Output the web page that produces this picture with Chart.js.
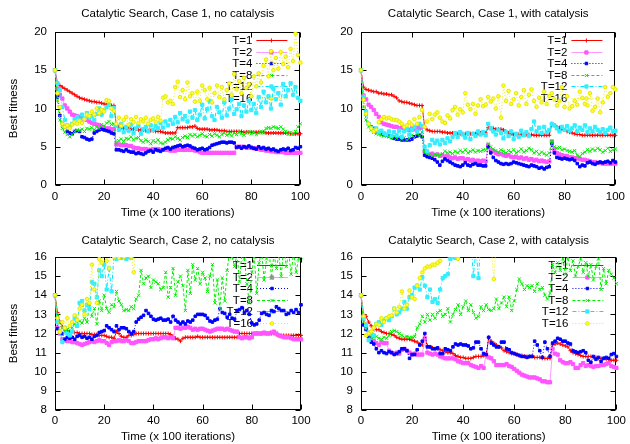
<!DOCTYPE html>
<html>
<head>
<meta charset="utf-8">
<script src="https://cdn.jsdelivr.net/npm/chart.js@4.4.0/dist/chart.umd.min.js"></script>
<style>
  body { margin: 0; background: #fff; }
  #wrap { position: relative; width: 630px; height: 444px; }
  canvas { position: absolute; }
</style>
</head>
<body>
<div id="wrap">
  <canvas id="p1" width="315" height="222" style="left:0;top:0"></canvas>
  <canvas id="p2" width="315" height="222" style="left:315px;top:0"></canvas>
  <canvas id="p3" width="315" height="222" style="left:0;top:222px"></canvas>
  <canvas id="p4" width="315" height="222" style="left:315px;top:222px"></canvas>
</div>
<script>
// time axis: 0..100 (x 100 iterations)
const times = Array.from({ length: 101 }, (_, i) => i);
const temps = ['T=1', 'T=2', 'T=4', 'T=8', 'T=12', 'T=16'];
const xTicks = [0, 20, 40, 60, 80, 100];

// Case 1, no catalysis
const c1n_t1 = [15,13.3,13.0,12.8,12.6,12.4,12.2,12.0,11.8,11.6,
  11.4,11.3,11.2,11.1,11.0,10.9,10.9,10.8,10.8,10.7,
  10.6,10.5,10.5,10.4,10.4,7.8,7.6,7.5,7.4,7.4,
  7.4,7.3,7.3,7.3,7.2,7.2,7.2,7.1,7.1,7.1,
  7.1,7.0,7.0,7.0,6.9,6.8,6.8,6.8,6.8,6.8,
  7.5,7.5,7.5,7.5,7.5,7.6,7.6,7.7,7.4,7.3,
  7.3,7.3,7.3,7.2,7.2,7.2,7.2,7.1,7.1,7.1,
  7.0,7.0,7.0,7.0,7.0,7.0,7.0,6.9,6.9,6.9,
  6.9,6.9,6.9,6.9,6.9,6.9,6.8,6.8,6.8,6.8,
  6.8,6.8,6.8,6.8,6.8,6.8,6.7,6.7,6.7,6.7,
  6.7];
const c1n_t2 = [15,12.6,11.8,11.3,10.4,10.0,9.6,9.2,9.1,9.0,
  8.9,8.8,8.6,8.5,8.3,8.1,8.0,7.9,7.8,7.6,
  7.5,7.4,7.4,7.3,7.3,5.3,5.3,5.2,5.2,5.2,
  5.1,5.1,4.9,4.8,4.8,4.7,4.7,4.7,4.6,4.6,
  4.7,4.7,4.7,4.6,4.6,4.6,4.6,4.5,4.5,4.5,
  4.6,4.6,4.6,4.6,4.6,4.6,4.6,4.5,4.5,4.3,
  4.2,4.2,4.2,4.2,4.2,4.2,4.2,4.2,4.2,4.2,
  4.2,4.2,4.2,4.2,5.0,5.0,5.0,5.0,4.9,4.9,
  4.9,4.8,4.8,4.7,4.6,4.6,4.5,4.5,4.4,4.4,
  4.3,4.3,4.3,4.3,4.2,4.2,4.2,4.2,4.2,4.2,
  4.2];
const c1n_t4 = [15,11.5,9.1,8.0,7.6,7.0,6.8,6.7,7.0,7.1,
  7.0,6.3,6.2,6.0,5.9,6.0,6.8,7.0,7.2,7.3,
  7.2,7.1,7.0,6.8,6.7,4.6,4.6,4.5,4.4,4.6,
  4.4,4.3,4.3,4.1,4.2,4.1,4.0,4.2,4.4,4.5,
  4.3,4.6,4.5,4.4,4.6,4.8,4.9,4.7,4.9,5.0,
  5.1,5.2,5.0,5.1,5.2,5.1,4.9,4.8,4.6,4.7,
  4.8,4.6,4.7,4.9,5.2,5.3,5.4,5.5,5.6,5.6,
  5.5,5.6,5.6,5.5,4.9,5.0,4.8,5.0,4.9,5.1,
  4.9,4.8,4.7,5.0,4.8,4.9,4.7,4.8,4.6,4.7,
  4.5,4.4,4.6,4.7,4.6,4.8,4.5,4.6,4.9,4.8,
  5.0];
const c1n_t8 = [15,11.1,8.5,7.4,6.9,6.6,6.3,6.6,7.0,7.2,
  7.1,7.3,7.0,7.4,7.3,7.5,7.2,7.6,7.4,7.9,
  7.7,8.1,8.3,7.9,8.0,5.4,5.8,6.0,5.7,6.1,
  6.0,6.3,5.9,6.1,6.2,5.8,5.6,5.9,5.7,5.4,
  5.8,5.6,5.9,5.5,5.4,5.6,5.9,6.1,6.0,6.3,
  6.1,5.9,6.2,6.4,6.2,6.6,6.4,6.6,6.3,6.5,
  6.7,6.4,6.3,6.6,6.4,6.7,6.5,6.3,6.6,6.8,
  6.5,6.7,6.4,6.8,6.6,6.9,6.7,6.5,6.8,7.0,
  6.7,6.9,6.6,6.8,7.0,6.8,7.4,7.5,7.4,7.6,
  7.5,7.4,7.6,7.3,7.0,6.6,6.9,6.6,7.0,7.6,
  8.0];
const c1n_t12 = [15,13.3,12.4,10.2,8.5,7.8,7.6,8.0,8.6,8.9,
  8.5,9.2,8.7,9.4,8.8,9.0,8.5,9.3,10.0,9.2,
  9.8,10.2,10.5,9.0,10.1,7.8,7.2,8.0,6.9,7.6,
  7.1,7.9,6.8,7.4,7.7,6.7,7.3,7.6,7.0,7.8,
  7.2,7.7,7.4,8.1,7.5,8.3,7.8,8.5,8.0,8.9,
  8.2,9.4,8.6,9.0,8.3,9.6,8.8,9.8,8.5,9.2,
  10.5,8.7,9.9,11.0,9.0,8.5,10.2,9.5,8.8,10.8,
  9.1,10.0,11.2,9.3,9.9,10.6,9.0,10.4,9.6,11.0,
  9.8,10.6,9.4,11.5,10.2,12.2,10.8,11.6,10.0,12.6,
  11.2,12.0,10.5,13.2,11.6,12.4,13.3,11.8,12.8,11.4,
  11.0];
const c1n_t16 = [15,12.0,10.2,8.0,7.6,7.8,7.4,7.9,8.2,8.0,
  8.4,8.1,8.6,9.2,9.0,9.6,9.2,10.0,9.4,9.8,
  9.6,11.1,11.0,10.0,9.7,8.0,8.8,7.7,8.5,8.9,
  7.9,8.6,8.2,8.9,8.1,8.6,8.3,8.8,8.0,8.5,
  8.7,8.2,8.9,8.4,11.4,11.6,10.8,11.0,10.6,12.8,
  13.5,11.5,12.4,11.2,13.4,11.6,12.0,10.9,12.2,11.0,
  13.0,12.4,11.2,12.7,10.8,12.0,13.0,11.5,12.8,11.2,
  12.4,13.3,11.8,14.5,12.5,13.6,12.0,14.0,12.7,13.2,
  11.6,14.2,12.9,14.6,13.4,15.6,16.4,14.2,17.5,15.0,
  16.6,15.2,17.4,15.8,16.8,15.4,17.8,16.2,19.8,17.0,
  16.0];

// Case 1, with catalysis
const c1w_t1 = [15,12.8,12.5,12.4,12.3,12.2,12.2,12.0,12.0,11.9,
  11.9,11.8,11.8,11.6,11.4,11.0,10.9,10.8,10.8,10.7,
  10.6,10.5,10.4,10.4,10.4,7.6,7.2,7.1,7.0,7.0,
  7.0,7.0,6.9,6.9,6.8,6.8,6.8,6.7,6.7,6.7,
  6.7,6.7,6.7,6.7,6.7,6.7,6.7,6.8,6.8,6.8,
  7.5,7.4,7.4,7.3,7.3,7.3,7.2,7.0,6.8,6.7,
  6.6,6.6,6.6,6.6,6.6,6.6,6.6,6.6,6.5,6.5,
  6.5,6.5,6.5,6.5,6.5,8.0,7.8,7.6,7.5,7.3,
  7.2,7.0,6.9,6.8,6.7,6.6,6.6,6.5,6.5,6.5,
  6.5,6.5,6.5,6.5,6.5,6.5,6.5,6.5,6.5,6.5,
  6.5];
const c1w_t2 = [15,11.7,11.2,10.5,10.2,9.8,9.3,8.9,8.2,8.0,
  7.9,7.8,7.7,7.6,7.6,7.4,7.5,7.4,7.3,7.2,
  7.4,7.3,7.5,7.4,7.6,4.4,4.2,4.0,4.1,3.9,
  4.0,3.8,3.9,3.7,3.8,3.6,3.5,3.6,3.4,3.5,
  3.5,3.3,3.4,3.2,3.3,3.1,3.2,3.1,3.2,3.1,
  5.2,4.6,4.4,4.2,4.0,4.1,3.9,3.8,3.9,3.7,
  3.6,3.7,3.5,3.6,3.4,3.5,3.3,3.4,3.2,3.3,
  3.1,3.2,3.1,3.0,3.1,5.7,4.6,4.2,4.0,3.9,
  3.8,3.8,3.6,3.6,3.5,3.5,3.4,3.3,3.3,3.2,
  3.1,3.0,3.0,2.9,2.9,2.8,2.8,2.8,2.8,2.8,
  2.8];
const c1w_t4 = [15,11.1,9.3,8.0,7.6,7.4,7.1,6.9,6.7,6.6,
  6.5,6.4,6.2,6.1,6.0,6.0,5.9,5.9,5.9,5.9,
  6.0,6.3,6.4,6.5,6.3,3.9,3.7,3.6,3.5,3.3,
  3.0,2.6,3.1,3.4,3.2,3.0,2.8,2.6,2.5,2.4,
  2.6,2.9,2.6,2.5,2.7,2.8,2.6,2.6,2.5,2.5,
  5.0,4.2,3.6,3.2,3.0,2.8,2.7,2.8,2.7,2.8,
  3.0,2.9,2.8,2.7,2.6,2.5,2.4,2.6,2.5,2.4,
  2.2,2.3,2.1,2.3,2.4,5.4,4.2,3.6,3.5,3.4,
  3.5,3.4,3.3,3.4,3.2,2.8,2.4,2.6,2.5,2.9,
  3.0,2.8,2.7,2.9,3.0,2.9,3.0,3.1,2.9,3.2,
  3.0];
const c1w_t8 = [15,10.2,8.5,7.6,7.2,6.9,6.7,6.6,6.5,6.4,
  6.5,6.3,6.2,6.4,6.1,6.3,6.0,6.2,5.9,6.1,
  6.5,6.2,6.8,6.4,6.9,4.3,4.1,4.0,3.8,4.0,
  3.9,3.9,4.1,4.4,4.2,4.3,4.1,4.4,4.2,4.5,
  4.3,4.6,4.2,4.4,4.6,4.3,4.5,4.4,4.6,4.5,
  5.4,5.0,4.7,4.5,4.3,4.6,4.4,4.2,4.5,4.3,
  4.6,4.2,4.4,4.7,4.3,4.5,4.8,4.6,4.2,4.4,
  4.0,4.3,4.1,3.9,4.2,5.7,5.0,4.8,4.9,4.6,
  4.7,4.5,4.4,4.3,4.5,3.9,3.7,4.1,4.3,4.6,
  4.4,4.7,4.5,4.8,4.6,4.3,4.5,4.8,4.4,4.6,
  4.7];
const c1w_t12 = [15,11.5,9.6,8.0,7.5,7.2,7.4,6.9,7.1,6.8,
  6.6,7.0,6.4,6.9,6.5,7.1,6.3,7.0,7.3,6.6,
  7.2,7.6,7.0,8.0,7.7,5.0,4.4,5.2,5.9,5.5,
  5.8,5.3,5.9,5.5,6.1,5.7,6.3,6.8,6.3,6.9,
  6.6,6.2,6.8,6.0,6.7,6.4,7.0,6.6,6.9,6.5,
  8.0,7.4,7.0,6.6,7.2,6.8,6.1,6.9,6.4,7.0,
  6.0,6.7,6.3,7.1,6.5,6.9,6.4,7.3,8.3,7.0,
  7.5,6.8,7.6,6.9,7.2,8.0,7.8,7.4,7.0,7.6,
  7.2,7.7,7.1,7.4,7.8,7.0,7.5,7.2,7.8,6.9,
  7.4,7.0,7.6,7.2,6.9,7.3,6.8,7.2,7.5,7.0,
  7.1];
const c1w_t16 = [15,11.1,9.3,8.0,7.4,7.0,7.2,8.2,8.6,8.9,
  8.7,8.8,8.6,8.5,8.5,8.3,8.0,7.6,7.8,8.2,
  7.9,8.6,8.0,8.9,9.8,7.6,8.3,9.3,8.6,9.2,
  9.5,8.8,8.3,8.1,9.1,8.7,9.8,10.2,9.2,9.9,
  9.5,12.0,10.5,9.9,10.6,9.3,10.4,11.2,10.3,10.5,
  11.5,10.9,11.3,10.0,11.6,8.8,13.0,11.0,12.3,10.6,
  11.2,12.0,10.4,11.5,12.4,10.6,11.8,12.5,11.0,10.2,
  11.4,10.8,12.2,10.6,11.6,12.0,11.2,10.4,11.0,12.8,
  10.2,11.6,10.0,10.3,11.0,10.5,12.2,11.4,10.6,10.4,
  12.0,9.7,10.2,11.3,9.5,10.8,12.8,11.5,12.0,12.8,
  12.5];

// Case 2, no catalysis
const c2n_t1 = [14,13.1,12.6,12.35,12.2,12.15,12.1,12.1,12.05,12.05,
  12.0,12.0,12.0,12.0,12.0,11.95,11.95,11.95,11.9,11.9,
  11.9,11.85,11.8,11.8,11.75,12.1,12.0,11.85,11.8,11.8,
  11.9,11.9,11.95,12.0,12.0,12.0,12.0,12.0,12.0,12.0,
  12.0,12.0,12.0,12.0,12.0,12.0,12.0,11.95,11.85,11.75,
  11.7,11.6,11.75,11.8,11.8,11.8,11.8,11.8,11.85,11.8,
  11.8,11.8,11.8,11.8,11.8,11.8,11.8,11.8,11.8,11.8,
  11.8,11.8,11.8,11.8,11.8,12.0,12.0,12.0,12.0,12.0,
  12.0,12.0,12.0,12.0,12.0,12.0,12.0,12.0,12.0,12.0,
  11.95,11.9,11.9,11.9,11.9,11.9,11.9,11.9,11.9,11.9,
  11.9];
const c2n_t2 = [14,12.3,12.0,11.7,11.65,11.6,11.6,11.55,11.55,11.5,
  11.45,11.4,11.45,11.5,11.55,11.6,11.55,11.6,11.65,11.6,
  11.6,11.5,11.4,11.55,11.6,11.6,11.65,11.6,11.6,11.65,
  11.6,11.5,11.5,11.55,11.6,11.6,11.6,11.6,11.65,11.7,
  11.7,11.75,11.7,11.75,11.8,11.8,11.75,11.8,11.75,12.3,
  12.3,12.25,12.3,12.3,12.35,12.3,12.2,12.25,12.2,12.25,
  12.25,12.2,12.15,12.1,12.15,12.2,12.25,12.25,12.25,12.2,
  12.25,12.2,12.15,12.1,12.1,11.8,11.75,11.8,11.8,11.75,
  11.8,12.0,12.0,12.0,12.0,12.05,12.0,12.0,12.05,12.1,
  12.0,11.9,11.85,11.8,11.8,11.8,11.75,11.7,11.7,11.7,
  11.7];
const c2n_t4 = [14,12.25,12.1,12.0,11.7,11.8,11.75,11.8,11.7,11.85,
  11.9,11.8,11.85,11.75,11.8,11.7,11.85,11.9,12.05,12.1,
  12.15,12.4,12.3,12.2,12.1,12.4,12.2,12.3,12.3,12.25,
  12.1,12.0,12.1,12.6,12.75,12.85,12.95,13.2,13.05,12.9,
  12.75,12.7,12.75,12.8,12.7,12.7,12.75,12.6,12.9,12.7,
  12.6,12.5,12.6,12.5,12.65,12.6,12.7,12.9,13.0,13.0,
  13.0,12.95,12.8,12.65,12.6,12.7,12.75,13.3,13.1,13.05,
  12.85,13.0,12.8,12.75,13.2,13.25,13.35,13.1,13.2,13.0,
  12.55,12.45,12.5,12.7,13.05,13.1,13.0,12.95,13.2,13.15,
  13.4,13.3,13.2,13.2,13.0,13.05,13.2,13.1,13.25,13.1,
  13.5];
const c2n_t8 = [14,12.95,12.6,12.3,12.1,12.2,12.35,12.3,12.5,12.4,
  12.65,12.55,12.8,12.6,13.5,12.9,13.3,12.5,13.7,13.2,
  14.0,13.3,13.1,13.5,13.4,14.2,13.7,13.5,13.2,13.25,
  13.2,13.4,13.3,13.8,14.0,15.3,14.6,14.9,15.0,14.4,
  14.8,14.7,14.6,14.3,14.4,15.2,13.9,14.4,15.4,14.0,
  14.7,15.0,14.5,13.2,15.3,14.1,15.6,14.8,15.4,14.6,
  15.2,14.9,14.2,15.0,15.6,13.6,14.8,13.3,14.9,13.7,
  15.3,16.4,16.0,15.5,16.2,14.7,16.3,15.9,14.6,13.6,
  15.2,16.0,14.1,15.7,16.3,14.8,15.9,16.4,14.9,16.2,
  15.4,16.1,15.0,16.6,15.5,16.2,15.1,16.3,15.2,15.9,
  16.0];
const c2n_t12 = [14,12.6,12.1,11.55,12.3,12.0,11.9,12.1,12.8,12.4,
  13.6,13.7,13.2,13.5,13.3,14.7,14.6,13.9,15.3,15.0,
  15.6,14.3,15.4,14.2,16.2,15.9,16.0,15.95,16.1,15.9,
  16.0,15.95,16.3,17.1,17.6,17.3,18.0,17.5,18.4,17.9,
  18.6,18.2,19.1,18.5,18.9,19.4,18.8,19.6,19.2,19.9,
  19.3,20.1,19.5,20.2,19.8,20.4,19.9,20.6,20.1,20.3,
  20.8,20.2,21.0,20.5,20.7,21.2,20.6,21.1,20.9,21.4,
  20.8,21.3,21.0,21.6,21.1,21.4,21.8,21.2,21.7,21.5,
  21.9,21.3,21.8,22.0,21.6,22.1,21.7,22.3,21.9,22.0,
  22.4,21.8,22.2,22.5,22.1,22.3,22.6,22.2,22.7,22.4,
  22.5];
const c2n_t16 = [14,12.8,12.1,12.6,12.3,12.8,12.4,12.6,12.95,12.7,
  13.3,13.5,13.0,13.8,13.6,15.6,14.3,13.6,15.9,15.7,
  16.3,15.8,15.4,16.5,16.0,16.2,15.95,16.4,16.0,16.1,
  16.3,16.0,15.2,16.9,17.4,17.1,17.8,18.2,17.6,18.5,
  18.1,18.8,18.4,19.2,18.7,19.5,19.0,19.8,19.3,20.1,
  19.6,20.3,19.8,20.6,20.0,20.8,20.3,21.0,20.5,21.1,
  20.7,21.3,20.9,21.5,21.0,21.6,21.2,21.8,21.3,21.9,
  21.5,22.0,21.6,22.2,21.8,22.3,21.9,22.4,22.0,22.5,
  22.1,22.6,22.2,22.7,22.3,22.8,22.4,22.9,22.5,23.0,
  22.6,23.1,22.7,23.2,22.8,23.3,22.9,23.4,23.0,23.5,
  23.1];

// Case 2, with catalysis
const c2w_t1 = [14,13.0,12.9,12.6,12.4,12.25,12.2,12.2,12.1,12.05,
  12.0,12.0,11.95,11.9,11.8,11.75,11.7,11.7,11.7,11.7,
  11.65,11.6,11.55,11.45,11.4,11.8,11.35,11.3,11.25,11.2,
  11.2,11.15,11.1,11.05,11.0,11.0,10.95,10.85,10.8,10.75,
  10.75,10.7,10.7,10.7,10.75,10.8,10.8,10.8,10.85,10.8,
  11.8,11.6,11.5,11.4,11.3,11.25,11.1,11.05,11.0,10.95,
  10.95,10.9,10.85,10.85,10.8,10.8,10.8,10.8,10.75,10.75,
  10.75,10.7,10.7,10.7,10.7,11.4,11.45,11.5,11.45,11.4,
  11.35,11.3,11.1,11.0,10.95,10.9,10.85,10.8,10.8,10.8,
  10.8,10.75,10.75,10.7,10.7,10.7,10.65,10.65,10.6,10.6,
  10.6];
const c2w_t2 = [14,12.9,12.25,11.9,11.75,11.6,11.5,11.4,11.55,11.5,
  11.5,11.1,11.0,10.95,11.0,10.95,11.15,11.2,11.1,11.0,
  10.9,10.95,10.9,10.9,10.9,11.75,11.0,10.95,10.9,10.95,
  10.9,10.8,10.75,10.7,10.7,10.7,10.7,10.65,10.55,10.5,
  10.45,10.45,10.45,10.35,10.3,10.25,10.2,10.3,10.2,10.9,
  10.75,10.7,10.55,10.35,10.35,10.35,10.35,10.4,10.3,10.25,
  10.15,10.05,9.95,9.85,9.8,9.75,9.7,9.7,9.7,9.65,
  9.6,9.5,9.5,9.45,9.45,11.2,10.95,10.9,10.6,10.5,
  10.45,10.45,10.5,10.4,10.2,10.2,10.35,10.45,10.3,10.35,
  10.3,10.25,10.3,10.3,10.35,10.35,10.4,10.45,10.3,10.25,
  10.2];
const c2w_t4 = [14,12.45,12.2,11.8,11.55,11.45,11.2,11.0,11.1,11.0,
  10.95,11.05,11.0,10.9,10.95,11.05,11.2,11.2,11.1,10.7,
  10.9,10.9,11.15,11.4,11.6,12.0,11.3,11.3,11.2,11.2,
  11.25,10.95,10.95,11.2,11.15,11.1,11.3,11.45,11.4,11.45,
  11.4,11.4,11.35,11.2,11.25,11.55,11.55,11.2,10.95,10.9,
  11.8,11.5,11.4,11.3,11.3,11.55,11.55,11.2,11.15,11.0,
  10.95,10.9,10.85,10.8,10.8,10.75,10.8,10.8,11.6,11.4,
  11.1,10.75,11.55,11.2,10.8,11.5,11.6,11.75,11.7,11.6,
  11.6,11.5,11.45,11.1,11.05,11.0,11.05,11.1,11.0,10.6,
  10.5,10.8,10.65,10.75,10.55,10.7,10.75,10.7,10.9,10.95,
  10.8];
const c2w_t8 = [14,12.6,12.25,12.1,11.9,11.8,11.85,11.75,11.7,11.8,
  11.75,11.9,12.1,12.15,12.1,12.0,11.9,11.8,11.85,11.8,
  11.8,11.85,12.3,12.5,12.9,12.6,13.0,12.7,13.0,12.8,
  13.1,13.2,12.9,13.0,13.3,12.6,13.0,13.25,13.5,13.0,
  13.4,13.7,13.2,13.5,13.1,12.8,12.9,13.4,13.2,13.5,
  13.25,13.2,13.3,13.8,13.3,13.6,13.9,13.4,13.9,13.2,
  13.7,14.3,14.85,14.6,14.3,14.5,14.4,14.5,14.2,14.6,
  14.3,14.4,14.0,13.8,14.1,15.6,15.2,15.7,15.3,15.9,
  15.1,16.0,15.3,15.8,15.0,15.5,15.9,15.2,15.7,15.0,
  15.6,14.8,15.5,15.9,14.3,15.4,14.6,15.3,15.1,14.9,
  14.6];
const c2w_t12 = [14,12.8,12.45,11.65,12.0,11.9,12.5,12.6,12.45,12.7,
  12.8,12.7,12.9,13.3,13.0,13.1,13.3,13.65,13.3,13.9,
  14.0,14.4,14.5,14.3,14.95,14.5,13.9,14.3,13.65,13.8,
  13.6,14.3,14.9,15.0,15.1,15.9,16.0,15.95,16.0,16.3,
  16.8,17.2,16.6,16.9,15.0,16.4,14.9,17.1,17.5,17.0,
  17.8,17.4,18.1,17.7,18.3,17.9,18.6,18.2,18.8,18.4,
  19.0,18.6,19.2,18.8,19.4,19.0,19.6,19.1,19.7,19.3,
  19.9,19.4,20.0,19.6,20.1,19.7,20.3,19.8,20.4,20.0,
  20.5,20.1,20.6,20.2,20.7,20.3,20.8,20.4,20.9,20.5,
  21.0,20.6,21.1,20.7,21.2,20.8,21.3,20.9,21.4,21.0,
  21.5];
const c2w_t16 = [14,12.9,11.9,12.0,12.1,12.3,12.5,12.45,12.8,12.6,
  12.8,12.9,12.95,13.3,13.1,13.4,14.2,13.3,13.5,14.25,
  13.9,13.8,14.5,14.9,15.2,15.4,15.5,15.5,15.6,15.6,
  15.7,15.8,16.2,16.4,16.1,16.6,16.2,16.5,15.9,16.3,
  16.8,17.2,17.0,17.5,17.3,17.9,17.6,18.1,17.8,18.4,
  17.9,16.6,14.85,16.9,17.6,18.2,18.0,18.6,18.3,18.9,
  18.5,19.1,18.7,19.3,18.9,19.5,19.1,19.7,19.3,19.9,
  19.5,20.1,19.7,20.3,19.9,20.5,20.1,20.7,20.3,20.9,
  20.5,21.1,20.7,21.3,20.9,21.5,21.1,21.7,21.3,21.9,
  21.5,22.1,21.7,22.3,21.9,22.5,22.1,22.7,22.3,22.9,
  22.5];

const FONT = '"Liberation Sans", Arial, Helvetica, sans-serif';

const styles = [
  { line: '#ff0000', point: '#ff0000', edge: '#ff0000', pointStyle: 'cross', radius: 2, dash: [] },
  { line: '#ff99ff', point: '#ff55ff', edge: '#ff55ff', pointStyle: 'rect', radius: 2.3, dash: [] },
  { line: '#0000ff', point: '#0000ff', edge: '#0000ff', pointStyle: 'rect', radius: 1.8, dash: [1, 2] },
  { line: '#00ee00', point: '#00ee00', edge: '#00ee00', pointStyle: 'crossRot', radius: 2.3, dash: [3, 2] },
  { line: '#00e5ff', point: '#33eeff', edge: '#33eeff', pointStyle: 'rect', radius: 2.3, dash: [4, 2, 1, 2] },
  { line: '#eeee00', point: '#ffff33', edge: '#e6e600', pointStyle: 'circle', radius: 1.8, dash: [1, 2] }
];

// frame with inward ticks on all four sides, like gnuplot
const framePlugin = {
  id: 'frame',
  beforeDatasetsDraw(chart) {
    const { ctx, chartArea: a, scales: { x, y } } = chart;
    const l = Math.round(a.left) + 0.5, r = Math.round(a.right) - 0.5;
    const t = Math.round(a.top) + 0.5, b = Math.round(a.bottom) - 0.5;
    ctx.save();
    ctx.strokeStyle = '#000';
    ctx.lineWidth = 1;
    ctx.strokeRect(l, t, r - l, b - t);
    ctx.beginPath();
    x.ticks.forEach(tk => {
      const px = Math.round(x.getPixelForValue(tk.value)) + 0.5;
      ctx.moveTo(px, b); ctx.lineTo(px, b - 5);
      ctx.moveTo(px, t); ctx.lineTo(px, t + 5);
    });
    y.ticks.forEach(tk => {
      const py = Math.round(y.getPixelForValue(tk.value)) + 0.5;
      ctx.moveTo(l, py); ctx.lineTo(l + 5, py);
      ctx.moveTo(r, py); ctx.lineTo(r - 5, py);
    });
    ctx.stroke();
    ctx.restore();
  }
};

// gnuplot-style key: right-justified text, then line sample with one marker
const keyPlugin = {
  id: 'key',
  beforeDatasetsDraw(chart) {
    const { ctx, chartArea: a } = chart;
    ctx.save();
    ctx.font = '11.5px ' + FONT;
    ctx.textAlign = 'right';
    ctx.textBaseline = 'middle';
    chart.data.datasets.forEach((ds, i) => {
      const yy = Math.round(a.top + 8 + i * 11.6) + 0.5;
      ctx.fillStyle = '#000';
      ctx.fillText(ds.label, a.right - 48, yy);
      ctx.strokeStyle = ds.borderColor;
      ctx.lineWidth = 1;
      ctx.setLineDash(ds.borderDash);
      ctx.beginPath();
      ctx.moveTo(a.right - 44, yy);
      ctx.lineTo(a.right - 13, yy);
      ctx.stroke();
      ctx.setLineDash([]);
      ctx.fillStyle = ds.pointBackgroundColor;
      ctx.strokeStyle = ds.pointBorderColor;
      Chart.helpers.drawPoint(ctx, {
        pointStyle: ds.pointStyle, radius: ds.pointRadius, rotation: 0, borderWidth: 1
      }, a.right - 29, yy);
    });
    ctx.restore();
  }
};

function makePanel(id, title, series, yMin, yMax, yStep, showYTitle, g) {
  const datasets = series.map((vals, i) => ({
    label: temps[i],
    data: vals.map((v, k) => ({ x: times[k], y: v })),
    borderColor: styles[i].line,
    borderWidth: 1,
    borderDash: styles[i].dash,
    pointStyle: styles[i].pointStyle,
    pointRadius: styles[i].radius,
    pointBorderWidth: 1,
    pointBackgroundColor: styles[i].point,
    pointBorderColor: styles[i].edge,
    tension: 0,
    order: series.length - i,
    clip: { left: 5, right: 5, top: 0, bottom: 0 }
  }));
  const W = 315, H = 222;
  return new Chart(document.getElementById(id), {
    type: 'line',
    data: { datasets },
    plugins: [framePlugin, keyPlugin],
    options: {
      responsive: false,
      animation: false,
      events: [],
      layout: { padding: { left: 0, right: W - g.right, top: 0, bottom: 0 } },
      plugins: {
        legend: { display: false },
        tooltip: { enabled: false },
        title: {
          display: true,
          text: title,
          fullSize: false,
          color: '#000',
          font: { family: FONT, size: 11.5, weight: 'normal' },
          padding: { top: g.titleY - 6.9, bottom: g.top - (g.titleY - 6.9) - 13.8 }
        }
      },
      scales: {
        x: {
          type: 'linear',
          min: 0, max: 100,
          afterFit: s => { s.height = H - g.bottom; },
          afterBuildTicks: s => { s.ticks = xTicks.map(v => ({ value: v })); },
          grid: { display: false, drawTicks: false },
          border: { display: false },
          ticks: { color: '#000', font: { family: FONT, size: 11.5 }, padding: g.xTickPad, autoSkip: false, maxRotation: 0 },
          title: {
            display: true, text: 'Time (x 100 iterations)', color: '#000',
            font: { family: FONT, size: 11.5 }, padding: { top: 0, bottom: g.xTitlePad }
          }
        },
        y: {
          min: yMin, max: yMax,
          afterFit: s => { s.width = g.left; },
          grid: { display: false, drawTicks: false },
          border: { display: false },
          ticks: { stepSize: yStep, color: '#000', font: { family: FONT, size: 11.5 }, padding: 8, autoSkip: false },
          title: {
            display: showYTitle, text: 'Best fitness', color: '#000',
            font: { family: FONT, size: 11.5 }, padding: { top: 7, bottom: 0 }
          }
        }
      }
    }
  });
}

const topGeomL = { left: 55, right: 301, top: 32, bottom: 185, titleY: 14, xTickPad: 5, xTitlePad: 2.4 };
const topGeomR = { left: 46, right: 303, top: 32, bottom: 185, titleY: 14, xTickPad: 5, xTitlePad: 2.4 };
const botGeomL = { left: 55, right: 301, top: 35, bottom: 188, titleY: 19.3, xTickPad: 4, xTitlePad: 0 };
const botGeomR = { left: 46, right: 303, top: 35, bottom: 188, titleY: 19.3, xTickPad: 4, xTitlePad: 0 };

makePanel('p1', 'Catalytic Search, Case 1, no catalysis',
  [c1n_t1, c1n_t2, c1n_t4, c1n_t8, c1n_t12, c1n_t16], 0, 20, 5, true, topGeomL);
makePanel('p2', 'Catalytic Search, Case 1, with catalysis',
  [c1w_t1, c1w_t2, c1w_t4, c1w_t8, c1w_t12, c1w_t16], 0, 20, 5, false, topGeomR);
makePanel('p3', 'Catalytic Search, Case 2, no catalysis',
  [c2n_t1, c2n_t2, c2n_t4, c2n_t8, c2n_t12, c2n_t16], 8, 16, 1, true, botGeomL);
makePanel('p4', 'Catalytic Search, Case 2, with catalysis',
  [c2w_t1, c2w_t2, c2w_t4, c2w_t8, c2w_t12, c2w_t16], 8, 16, 1, false, botGeomR);
</script>
</body>
</html>
